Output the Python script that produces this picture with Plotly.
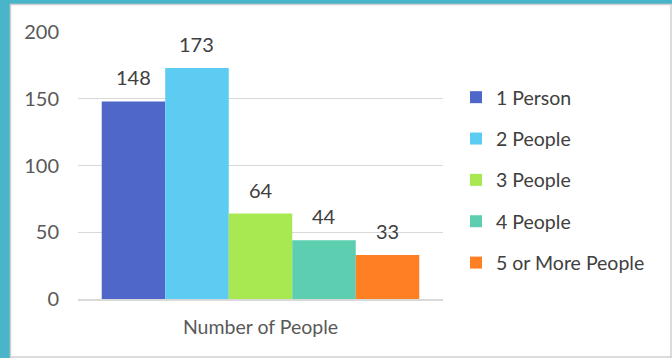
import plotly.graph_objects as go

categories = ["Number of People"]
series_names = ["1 Person", "2 People", "3 People", "4 People", "5 or More People"]
series_values = [148, 173, 64, 44, 33]
series_colors = ["#4F67C9", "#5DCCF2", "#A8E850", "#5DCEB0", "#FF8022"]
y_ticks = [0, 50, 100, 150, 200]

W, H = 672, 358
ML, MR, MT, MB = 78, 229, 32, 59
BARGAP = 0.13
FONT = "Lato"
TXT = "#404040"
FS = 19.5

fig = go.Figure()
for name, val, col in zip(series_names, series_values, series_colors):
    fig.add_trace(go.Bar(
        x=categories, y=[val], name=name, marker=dict(color=col, line=dict(width=0)),
        legendgroup=name,
    ))

# data labels above bars
n = len(series_values)
slot = (1 - BARGAP) / n
for i, val in enumerate(series_values):
    xc = -0.5 + BARGAP / 2 + slot * (i + 0.5)
    fig.add_annotation(x=xc, y=val, xref="x", yref="y", text=str(val), showarrow=False,
                       yanchor="middle", yshift=24,
                       font=dict(family=FONT, size=20, color=TXT))

pw = W - ML - MR
ph = H - MT - MB
def px_x(px):
    return (px - ML) / pw
def px_y(py):
    return (H - MB - py) / ph

teal = "#4AB5C9"
edge = "#D0D0D0"
# frame decoration
fig.add_shape(type="rect", xref="paper", yref="paper", x0=px_x(0), x1=px_x(W), y0=px_y(0), y1=px_y(4),
              fillcolor=teal, line_width=0, layer="below")
fig.add_shape(type="rect", xref="paper", yref="paper", x0=px_x(0), x1=px_x(10), y0=px_y(0), y1=px_y(H),
              fillcolor=teal, line_width=0, layer="below")
fig.add_shape(type="line", xref="paper", yref="paper", x0=px_x(10), x1=px_x(W), y0=px_y(4.5), y1=px_y(4.5),
              line=dict(color=edge, width=1.5), layer="below")
fig.add_shape(type="line", xref="paper", yref="paper", x0=px_x(10.5), x1=px_x(10.5), y0=px_y(4), y1=px_y(H),
              line=dict(color=edge, width=1.5), layer="below")
fig.add_shape(type="line", xref="paper", yref="paper", x0=px_x(W - 1), x1=px_x(W - 1), y0=px_y(4), y1=px_y(H),
              line=dict(color=edge, width=1.5), layer="below")
fig.add_shape(type="line", xref="paper", yref="paper", x0=px_x(10), x1=px_x(W), y0=px_y(H - 1), y1=px_y(H - 1),
              line=dict(color=edge, width=1.5), layer="below")

fig.update_layout(
    width=W, height=H,
    margin=dict(l=ML, r=MR, t=MT, b=MB, pad=0),
    paper_bgcolor="white", plot_bgcolor="white",
    barmode="group", bargap=BARGAP, bargroupgap=0,
    font=dict(family=FONT, size=FS, color=TXT),
    showlegend=True,
    legend=dict(x=px_x(456), xanchor="left", y=px_y(180), yanchor="middle",
                traceorder="grouped", tracegroupgap=13,
                font=dict(family=FONT, size=FS, color=TXT), bgcolor="rgba(0,0,0,0)"),
    xaxis=dict(type="category", showgrid=False, showline=True, linecolor="#D9D9D9", linewidth=1.5,
               ticks="", tickfont=dict(family=FONT, size=FS, color="#595959"), ticklabelstandoff=10,
               fixedrange=True),
    yaxis=dict(range=[0, 200], tickvals=y_ticks, showgrid=True, gridcolor="#D9D9D9", gridwidth=1,
               zeroline=False, showline=False, ticks="",
               tickfont=dict(family=FONT, size=20, color="#595959"), ticklabelstandoff=18,
               fixedrange=True),
)

fig.write_html("out.html")
